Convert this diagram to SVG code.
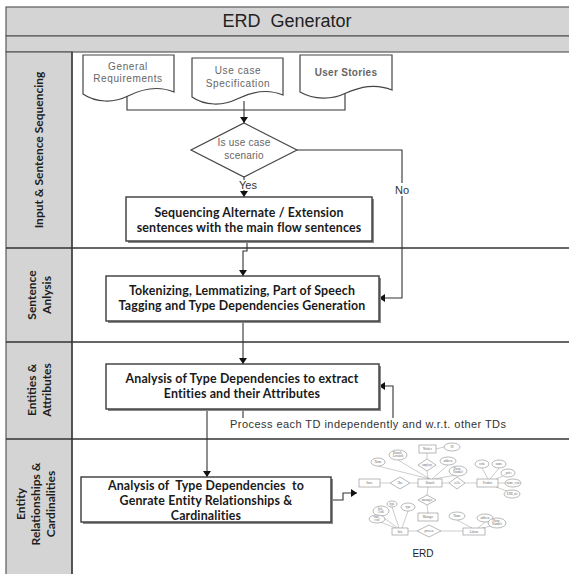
<svg xmlns="http://www.w3.org/2000/svg" width="569" height="574" viewBox="0 0 569 574">
<defs>
<marker id="arr" markerUnits="userSpaceOnUse" markerWidth="7" markerHeight="8" refX="6" refY="4" orient="auto">
<path d="M0,0 L6,4 L0,8 z" fill="#111"/>
</marker>
<style>
.band{fill:#d4d4d4;stroke:#5a5a5a;stroke-width:1.2}
.lane{stroke:#333;stroke-width:1.3;fill:none}
.lbl{font-family:Lato,"Liberation Sans",sans-serif;font-weight:bold;font-size:12px;fill:#1e1e1e;text-anchor:middle}
.doc{fill:#fff;stroke:#444;stroke-width:1.2}
.dtxt{font-family:"Liberation Sans",Arial,sans-serif;font-size:10px;fill:#666;text-anchor:middle;letter-spacing:0.6px}
.box{fill:#fff;stroke:#3a3a3a;stroke-width:1.4}
.shadow{fill:#8a8a8a}
.btxt{font-family:Lato,"Liberation Sans",sans-serif;font-weight:bold;font-size:12.4px;fill:#1a1a1a;text-anchor:middle;letter-spacing:0.15px}
.con{stroke:#333;stroke-width:1.1;fill:none}
.ctxt{font-family:"Liberation Sans",Arial,sans-serif;font-size:11px;fill:#333}
.e{fill:#fff;stroke:#8a8a8a;stroke-width:0.6}
.el{stroke:#9a9a9a;stroke-width:0.5;fill:none}
.et{font-family:"Liberation Serif",serif;font-size:3px;fill:#666;text-anchor:middle}
</style>
</defs>

<g id="frame">
<rect x="6" y="7" width="570" height="29" class="band"/>
<rect x="6" y="36" width="570" height="16" class="band"/>
<rect x="6" y="52" width="66" height="530" class="band"/>
<line x1="6" y1="248" x2="569" y2="248" class="lane"/>
<line x1="6" y1="342" x2="569" y2="342" class="lane"/>
<line x1="6" y1="439" x2="569" y2="439" class="lane"/>
<line x1="72" y1="52" x2="72" y2="574" class="lane"/>
<text x="287" y="27" style="font-family:'Liberation Sans',Arial,sans-serif;font-size:18px;fill:#222;text-anchor:middle" xml:space="preserve">ERD  Generator</text>
</g>

<g id="lane-labels">
<text class="lbl" transform="translate(43,150) rotate(-90)">Input &amp; Sentence Sequencing</text>
<text class="lbl" transform="translate(36,295) rotate(-90)">Sentence</text>
<text class="lbl" transform="translate(51,295) rotate(-90)">Anlysis</text>
<text class="lbl" transform="translate(36,390) rotate(-90)">Entities &amp;</text>
<text class="lbl" transform="translate(51,390) rotate(-90)">Attributes</text>
<text class="lbl" transform="translate(25,504) rotate(-90)">Entity</text>
<text class="lbl" transform="translate(40,504) rotate(-90)">Relationships &amp;</text>
<text class="lbl" transform="translate(55,504) rotate(-90)">Cardinalities</text>
</g>

<g id="connectors">
<path class="con" d="M127,96 V110 H345 V92"/>
<path class="con" d="M244,101 V123" marker-end="url(#arr)"/>
<path class="con" d="M244,177 V180"/>
<path class="con" d="M244,190 V197" marker-end="url(#arr)"/>
<path class="con" d="M297,150 H402 V183"/>
<path class="con" d="M402,196 V298 H379" marker-end="url(#arr)"/>
<path class="con" d="M247,241 V251 H243 V276" marker-end="url(#arr)"/>
<path class="con" d="M243,321 V364" marker-end="url(#arr)"/>
<path class="con" d="M243,409 V418"/>
<path class="con" d="M393,418 V386 H379" marker-end="url(#arr)"/>
<path class="con" d="M207,409 V477" marker-end="url(#arr)"/>
<path class="con" d="M331,500 H343 V493 H357" marker-end="url(#arr)"/>
<text class="ctxt" x="248" y="189" text-anchor="middle">Yes</text>
<text class="ctxt" x="402" y="194" text-anchor="middle">No</text>
<text class="ctxt" x="230" y="428" style="letter-spacing:0.45px">Process each TD independently and w.r.t. other TDs</text>
</g>

<g id="doc-general">
<path class="doc" d="M83,55 H174 V92 C157,85 142,89 128,96 C114,103 96,103 83,94 Z"/>
<text class="dtxt" x="128" y="70">General</text>
<text class="dtxt" x="128" y="82">Requirements</text>
</g>
<g id="doc-usecase">
<path class="doc" d="M192,58 H283 V95 C266,88 251,92 237,99 C223,106 205,106 192,97 Z"/>
<text class="dtxt" x="238" y="74">Use case</text>
<text class="dtxt" x="238" y="87">Specification</text>
</g>
<g id="doc-stories">
<path class="doc" d="M300,55 H392 V90 C375,83 360,87 346,93 C332,100 314,100 300,92 Z"/>
<text class="dtxt" x="346" y="76" style="font-weight:bold;letter-spacing:0.3px">User Stories</text>
</g>

<g id="decision">
<path class="doc" d="M244,123 L297,150 L244,177 L191,150 Z"/>
<text class="dtxt" x="244" y="146" style="letter-spacing:0.2px">Is use case</text>
<text class="dtxt" x="244" y="159" style="letter-spacing:0.2px">scenario</text>
</g>

<g id="sequencing">
<rect class="shadow" x="128" y="199" width="246" height="44"/>
<rect class="box" x="126" y="197" width="246" height="44"/>
<text class="btxt" x="249" y="217">Sequencing Alternate / Extension</text>
<text class="btxt" x="249" y="232">sentences with the main flow sentences</text>
</g>

<g id="tokenizing">
<rect class="shadow" x="108" y="278" width="273" height="45"/>
<rect class="box" x="106" y="276" width="273" height="45"/>
<text class="btxt" x="242" y="295">Tokenizing, Lemmatizing, Part of Speech</text>
<text class="btxt" x="242" y="310">Tagging and Type Dependencies Generation</text>
</g>

<g id="analysis">
<rect class="shadow" x="108" y="366" width="273" height="45"/>
<rect class="box" x="106" y="364" width="273" height="45"/>
<text class="btxt" x="242" y="383">Analysis of Type Dependencies to extract</text>
<text class="btxt" x="242" y="398">Entities and their Attributes</text>
</g>

<g id="relationships">
<rect class="shadow" x="83" y="479" width="250" height="45"/>
<rect class="box" x="81" y="477" width="250" height="45"/>
<text class="btxt" x="206" y="489.5" xml:space="preserve">Analysis of  Type Dependencies  to</text>
<text class="btxt" x="206" y="504.5">Genrate Entity Relationships &amp;</text>
<text class="btxt" x="206" y="519.5">Cardinalities</text>
</g>

<g id="erd">
<g class="el">
<line x1="427" y1="453" x2="427" y2="459"/><line x1="427" y1="471" x2="428" y2="479"/>
<line x1="436" y1="449" x2="444" y2="447"/>
<line x1="380" y1="483" x2="390" y2="483"/><line x1="410" y1="483" x2="418" y2="483"/>
<line x1="442" y1="483" x2="449" y2="483"/><line x1="465" y1="483" x2="477" y2="483"/>
<line x1="430" y1="479" x2="378" y2="466"/><line x1="430" y1="479" x2="398" y2="460"/>
<line x1="432" y1="479" x2="448" y2="465"/><line x1="434" y1="479" x2="456" y2="475"/>
<line x1="488" y1="479" x2="482" y2="468"/><line x1="490" y1="479" x2="499" y2="468"/>
<line x1="496" y1="479" x2="503" y2="476"/><line x1="498" y1="483" x2="505" y2="483"/>
<line x1="496" y1="487" x2="507" y2="491"/>
<line x1="428" y1="487" x2="427" y2="495"/><line x1="427" y1="505" x2="428" y2="513"/>
<line x1="408" y1="531" x2="417" y2="531"/><line x1="441" y1="531" x2="463" y2="531"/>
<line x1="398" y1="528" x2="381" y2="516"/><line x1="399" y1="528" x2="392" y2="507"/>
<line x1="402" y1="528" x2="408" y2="511"/><line x1="396" y1="528" x2="380" y2="522"/>
<line x1="472" y1="528" x2="457" y2="520"/><line x1="478" y1="528" x2="485" y2="522"/>
<line x1="482" y1="528" x2="492" y2="526"/>
</g>
<rect class="e" x="419" y="445" width="17" height="8"/><text class="et" x="427.5" y="450">Worker</text>
<rect class="e" x="418" y="479" width="24" height="8"/><text class="et" x="430" y="484">Branch</text>
<rect class="e" x="359" y="479" width="21" height="8"/><text class="et" x="369.5" y="484">Store</text>
<rect class="e" x="477" y="479" width="21" height="8"/><text class="et" x="487.5" y="484">Product</text>
<rect class="e" x="418" y="513" width="20" height="8"/><text class="et" x="428" y="518">Manager</text>
<rect class="e" x="392" y="528" width="16" height="7"/><text class="et" x="400" y="532.5">Sale</text>
<rect class="e" x="463" y="528" width="22" height="7"/><text class="et" x="474" y="532.5">Labour</text>
<path class="e" d="M427,459 L436,465 L427,471 L418,465 Z"/><text class="et" x="427" y="466">employs</text>
<path class="e" d="M400,477 L410,483 L400,489 L390,483 Z"/><text class="et" x="400" y="484">Has</text>
<path class="e" d="M457,477 L465,483 L457,489 L449,483 Z"/><text class="et" x="457" y="484">sells</text>
<path class="e" d="M427,495 L436,500 L427,505 L418,500 Z"/><text class="et" x="427" y="501">manages</text>
<path class="e" d="M429,525 L441,531 L429,537 L417,531 Z"/><text class="et" x="429" y="532">process</text>
<ellipse class="e" cx="452" cy="447" rx="8" ry="4"/><text class="et" x="452" y="448">ID</text>
<ellipse class="e" cx="378" cy="462" rx="7" ry="4"/><text class="et" x="378" y="463">Name</text>
<ellipse class="e" cx="398" cy="455" rx="9" ry="5"/><text class="et" x="398" y="454">Branch_</text><text class="et" x="398" y="457">Location</text>
<ellipse class="e" cx="448" cy="461" rx="8" ry="4"/><text class="et" x="448" y="462">address</text>
<ellipse class="e" cx="458" cy="471" rx="9" ry="5"/><text class="et" x="458" y="470">Phone_</text><text class="et" x="458" y="473">Number</text>
<ellipse class="e" cx="482" cy="464" rx="7" ry="4"/><text class="et" x="482" y="465">code</text>
<ellipse class="e" cx="499" cy="464" rx="7" ry="4"/><text class="et" x="499" y="465">name</text>
<ellipse class="e" cx="508" cy="473" rx="7" ry="4"/><text class="et" x="508" y="474">_price</text>
<ellipse class="e" cx="513" cy="483" rx="8" ry="4"/><text class="et" x="513" y="484">name_cost</text>
<ellipse class="e" cx="512" cy="494" rx="8" ry="4"/><text class="et" x="512" y="495">ERR_no</text>
<ellipse class="e" cx="381" cy="511" rx="8" ry="5"/><text class="et" x="381" y="510">Sale_</text><text class="et" x="381" y="513">Code</text>
<ellipse class="e" cx="392" cy="504" rx="5" ry="3"/><text class="et" x="392" y="505">type</text>
<ellipse class="e" cx="408" cy="507" rx="7" ry="4"/><text class="et" x="408" y="508">type</text>
<ellipse class="e" cx="377" cy="519" rx="8" ry="4"/><text class="et" x="377" y="518">total_</text><text class="et" x="377" y="521">cost</text>
<ellipse class="e" cx="457" cy="516" rx="8" ry="4"/><text class="et" x="457" y="517">Name</text>
<ellipse class="e" cx="485" cy="518" rx="8" ry="4"/><text class="et" x="485" y="519">address</text>
<ellipse class="e" cx="497" cy="523" rx="9" ry="5"/><text class="et" x="497" y="522">Phone_</text><text class="et" x="497" y="525">Number</text>
<text x="423" y="557" style="font-family:'Liberation Sans',Arial,sans-serif;font-size:10px;fill:#222;text-anchor:middle">ERD</text>
</g>
</svg>
